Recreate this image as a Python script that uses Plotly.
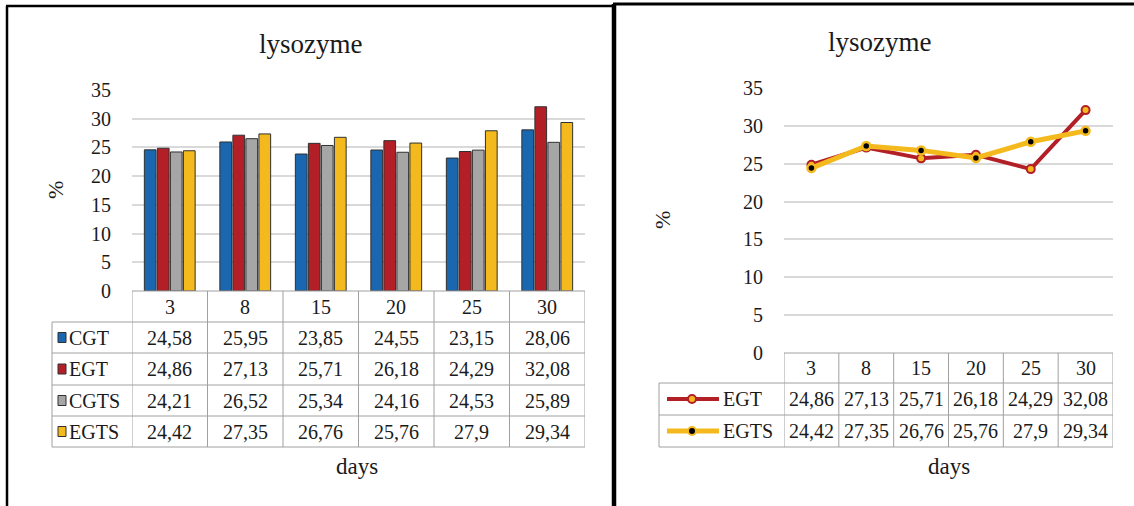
import plotly.graph_objects as go

# ---------------- data ----------------
days = ["3", "8", "15", "20", "25", "30"]
CGT = [24.58, 25.95, 23.85, 24.55, 23.15, 28.06]
EGT = [24.86, 27.13, 25.71, 26.18, 24.29, 32.08]
CGTS = [24.21, 26.52, 25.34, 24.16, 24.53, 25.89]
EGTS = [24.42, 27.35, 26.76, 25.76, 27.9, 29.34]
bar_series = [("CGT", CGT), ("EGT", EGT), ("CGTS", CGTS), ("EGTS", EGTS)]
line_series = [("EGT", EGT), ("EGTS", EGTS)]
title_text = "lysozyme"
x_title = "days"
y_title = "%"

# ---------------- styles ----------------
W, H = 1134, 506
FONT = "Liberation Serif, Times New Roman, Tinos, DejaVu Serif, serif"
TXT = "#1a1a1a"
GRID = "#D9D9D9"
TLINE = "#A0A0A0"
colors = {"CGT": "#1A67B0", "EGT": "#B31F27", "CGTS": "#A6A6A6", "EGTS": "#F4BA1D"}


def px(x):
    return x / W


def py(y):
    return 1 - y / H


fig = go.Figure()

# Left: grouped bars
for name, vals in bar_series:
    fig.add_trace(go.Bar(x=days, y=vals, name=name, xaxis="x", yaxis="y",
                         marker=dict(color=colors[name], line=dict(color="#303030", width=1)),
                         showlegend=False))

# Right: lines
line_style = {
    "EGT": dict(line=dict(color=colors["EGT"], width=4),
                marker=dict(size=8, color=colors["EGTS"], line=dict(color=colors["EGT"], width=2))),
    "EGTS": dict(line=dict(color=colors["EGTS"], width=5),
                 marker=dict(size=8, color="#000000", line=dict(color=colors["EGTS"], width=2.5))),
}
for name, vals in line_series:
    fig.add_trace(go.Scatter(x=days, y=vals, name=name, mode="lines+markers",
                             xaxis="x2", yaxis="y2", showlegend=False, **line_style[name]))

# axes geometry (pixels)
L = dict(x0=132, x1=585, y0=291, y1=90)
R = dict(x0=784, x1=1113, y0=353, y1=88)

yax_common = dict(range=[0, 35], dtick=5, showgrid=True, gridcolor=GRID, gridwidth=1.5,
                  zeroline=False, showline=False, ticks="", ticklabelstandoff=20,
                  automargin=False,
                  tickfont=dict(family=FONT, size=20, color=TXT), fixedrange=True)
xax_common = dict(type="category", range=[-0.5, 5.5], showticklabels=False, showgrid=False,
                  zeroline=False, showline=False, ticks="", fixedrange=True, automargin=False)

fig.update_layout(
    width=W, height=H, margin=dict(l=0, r=0, t=0, b=0, pad=0, autoexpand=False),
    paper_bgcolor="white", plot_bgcolor="white",
    font=dict(family=FONT),
    barmode="group", bargap=0.31, bargroupgap=0.1,
    xaxis=dict(domain=[px(L["x0"]), px(L["x1"])], anchor="y", **xax_common),
    yaxis=dict(domain=[py(L["y0"]), py(L["y1"])], anchor="x", **yax_common),
    xaxis2=dict(domain=[px(R["x0"]), px(R["x1"])], anchor="y2", **xax_common),
    yaxis2=dict(domain=[py(R["y0"]), py(R["y1"])], anchor="x2", **yax_common),
)

shapes = []
annotations = []


def hline(x0, x1, y, xref="paper", color=TLINE, width=1):
    shapes.append(dict(type="line", xref=xref, yref="paper", x0=x0, x1=x1, y0=py(y), y1=py(y),
                       line=dict(color=color, width=width)))


def vline(x, y0, y1, xref="paper", color=TLINE, width=1):
    shapes.append(dict(type="line", xref=xref, yref="paper", x0=x, x1=x, y0=py(y0), y1=py(y1),
                       line=dict(color=color, width=width)))


def text(x, y, s, size=20, xref="paper", xanchor="center", angle=0):
    annotations.append(dict(x=x, y=py(y), xref=xref, yref="paper",
                            text=s, showarrow=False, xanchor=xanchor, yanchor="middle",
                            textangle=angle, font=dict(family=FONT, size=size, color=TXT)))


def fmt(v):
    return ("%g" % v).replace(".", ",")


def build_table(xa, geo, label_x0, row_edges, series, key_kind):
    n = len(days)
    top = geo["y0"]
    bottom = row_edges[-1]
    hline(px(geo["x0"]), px(geo["x1"]), top)
    for y in row_edges:
        hline(px(label_x0), px(geo["x1"]), y)
    for i in range(n + 1):
        vline(i - 0.5, top, bottom, xref=xa)
    vline(px(label_x0), row_edges[0], bottom)
    for i, d in enumerate(days):
        text(i, (top + row_edges[0]) / 2, d, xref=xa)
    for r, (name, vals) in enumerate(series):
        yc = (row_edges[r] + row_edges[r + 1]) / 2
        for i, v in enumerate(vals):
            text(i, yc, fmt(v), xref=xa)
        if key_kind == "square":
            shapes.append(dict(type="rect", xref="paper", yref="paper",
                               x0=px(label_x0 + 6), x1=px(label_x0 + 14),
                               y0=py(yc + 5), y1=py(yc - 5),
                               fillcolor=colors[name], line=dict(color="#303030", width=1)))
            text(px(label_x0 + 15), yc, name, xanchor="left")
        else:
            st = line_style[name]
            shapes.append(dict(type="line", xref="paper", yref="paper",
                               x0=px(label_x0 + 8), x1=px(label_x0 + 60), y0=py(yc), y1=py(yc),
                               line=dict(color=st["line"]["color"], width=st["line"]["width"])))
            cx = label_x0 + 33
            rr = 4
            shapes.append(dict(type="circle", xref="paper", yref="paper",
                               x0=px(cx - rr), x1=px(cx + rr), y0=py(yc + rr), y1=py(yc - rr),
                               fillcolor=st["marker"]["color"],
                               line=dict(color=st["marker"]["line"]["color"], width=2)))
            text(px(label_x0 + 62), yc, name, xanchor="left")


build_table("x", L, 52, [322, 353, 385, 416, 447], bar_series, "square")
build_table("x2", R, 659, [383, 415, 447], line_series, "line")

# titles and axis titles
text(px(310), 44, title_text, size=27)
text(px(879), 42, title_text, size=27)
text(px(357), 466, x_title, size=23)
text(px(949), 466, x_title, size=23)
text(px(55), 190, y_title, size=22, angle=-90)
text(px(663), 220, y_title, size=22, angle=-90)

# panel borders
vline(px(7), 6, 506, color="#000000", width=2.5)
hline(px(6), px(613), 6, color="#000000", width=2.5)
hline(px(613), px(1134), 4, color="#000000", width=3)
vline(px(614), 4, 506, color="#000000", width=4.5)

fig.update_layout(shapes=shapes, annotations=annotations)
fig.write_html("out.html", config={"displayModeBar": False},
               post_script="document.body.style.margin='0';document.body.style.overflow='hidden';")
